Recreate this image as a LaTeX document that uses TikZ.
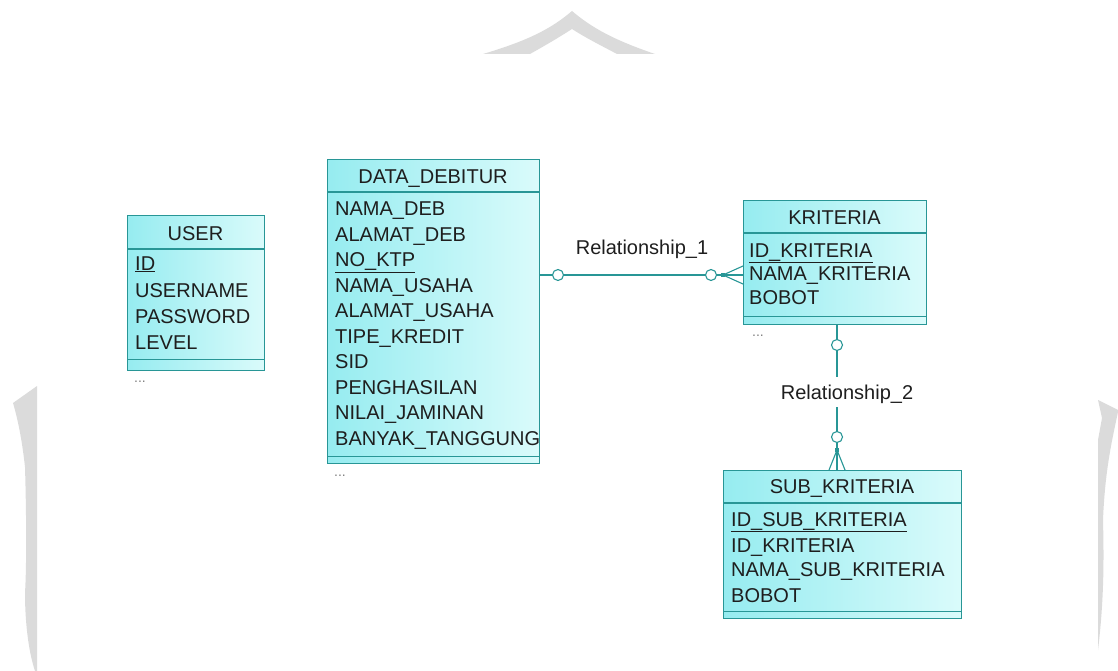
\documentclass[tikz,border=0pt]{standalone}
\usepackage{fontspec}
\setmainfont{Liberation Sans}
\usetikzlibrary{positioning}

\definecolor{entline}{RGB}{40,150,150}
\definecolor{entleft}{RGB}{150,236,240}
\definecolor{entright}{RGB}{218,251,251}
\definecolor{enttext}{RGB}{30,30,30}
\definecolor{wmark}{RGB}{219,219,219}

\tikzset{
  entbox/.style={draw=entline, line width=1.2pt, left color=entleft, right color=entright, inner sep=0pt, anchor=north west},
  entsep/.style={draw=entline, line width=1.1pt},
  enttitle/.style={text=enttext, inner sep=0pt, text height=14pt, text depth=0pt, font=\fontsize{20}{24}\selectfont},
  attr/.style={anchor=west, text=enttext, inner sep=0pt, text height=14pt, text depth=0pt, font=\fontsize{20}{24}\selectfont},
  more/.style={anchor=west, text=gray, inner sep=0pt, font=\fontsize{14}{16}\selectfont},
  relline/.style={draw=entline, line width=1.1pt},
  relcirc/.style={circle, draw=entline, line width=1.1pt, fill=white, minimum size=11pt, inner sep=0pt},
  reldot/.style={fill=entline, minimum size=3.5pt, inner sep=0pt},
  rellabel/.style={text=enttext, inner sep=8pt, text height=14pt, text depth=0pt, font=\fontsize{20}{24}\selectfont}
}

\begin{document}
\begin{tikzpicture}[x=1pt, y=-1pt]
  \useasboundingbox (0,0) rectangle (1118,671);

  % watermark
  \fill[wmark] (483,54) .. controls (530,40) and (552,28) .. (572,11)
    .. controls (592,28) and (614,40) .. (655,54) -- (617,54)
    .. controls (600,45) and (586,38) .. (572,29)
    .. controls (558,38) and (546,45) .. (530,54) -- cycle;
  \fill[wmark] (13,403) -- (37,386) -- (37,671) -- (35,671)
    .. controls (28,650) and (25,620) .. (25,593)
    .. controls (27,560) and (26,500) .. (25,467)
    .. controls (22,440) and (18,420) .. (13,403) -- cycle;
  \fill[wmark] (1098,400) -- (1118,410) -- (1118,412)
    .. controls (1112,440) and (1105,470) .. (1103,520)
    .. controls (1104,560) and (1104,600) .. (1098,650)
    -- (1098,440) -- (1102,418) -- cycle;

  % USER
  \node[entbox, minimum width=137pt, minimum height=155pt] (user) at (127,215) {};
  \draw[entsep] ([yshift=-34pt]user.north west) -- ([yshift=-34pt]user.north east);
  \draw[entsep] ([yshift=12pt]user.south west) -- ([yshift=12pt]user.south east);
  \node[enttitle] (usertitle) at (195.5,233) {USER};
  \node[attr] (userid) at (135,263) {\underline{ID}};
  \node[attr] (username) at (135,290) {USERNAME};
  \node[attr] (userpass) at (135,316) {PASSWORD};
  \node[attr] (userlevel) at (135,342) {LEVEL};
  \node[more] (usermore) at (134,382) {...};

  % DATA_DEBITUR
  \node[entbox, minimum width=212pt, minimum height=304pt] (debitur) at (327,159) {};
  \draw[entsep] ([yshift=-33pt]debitur.north west) -- ([yshift=-33pt]debitur.north east);
  \draw[entsep] ([yshift=8pt]debitur.south west) -- ([yshift=8pt]debitur.south east);
  \node[enttitle] (debtitle) at (433,176) {DATA\_DEBITUR};
  \begin{scope}
    \clip (327,159) rectangle (538,463);
    \node[attr] (debnama) at (335,208) {NAMA\_DEB};
    \node[attr] (debalamat) at (335,234) {ALAMAT\_DEB};
    \node[attr] (debktp) at (335,259.5) {\underline{NO\_KTP}};
    \node[attr] (debusaha) at (335,285) {NAMA\_USAHA};
    \node[attr] (debalusaha) at (335,310.5) {ALAMAT\_USAHA};
    \node[attr] (debtipe) at (335,336) {TIPE\_KREDIT};
    \node[attr] (debsid) at (335,361.5) {SID};
    \node[attr] (debhasil) at (335,387) {PENGHASILAN};
    \node[attr] (debnilai) at (335,412.5) {NILAI\_JAMINAN};
    \node[attr] (debtanggung) at (335,438) {BANYAK\_TANGGUNG};
  \end{scope}
  \node[more] (debmore) at (334,476) {...};

  % KRITERIA
  \node[entbox, minimum width=183pt, minimum height=124pt] (kriteria) at (743,200) {};
  \draw[entsep] ([yshift=-33pt]kriteria.north west) -- ([yshift=-33pt]kriteria.north east);
  \draw[entsep] ([yshift=9pt]kriteria.south west) -- ([yshift=9pt]kriteria.south east);
  \node[enttitle] (krititle) at (834.5,217) {KRITERIA};
  \node[attr] (kriid) at (749,250) {\underline{ID\_KRITERIA}};
  \node[attr] (krinama) at (749,273.5) {NAMA\_KRITERIA};
  \node[attr] (kribobot) at (749,297) {BOBOT};
  \node[more] (krimore) at (752,336) {...};

  % SUB_KRITERIA
  \node[entbox, minimum width=238pt, minimum height=148pt] (subkri) at (723,470) {};
  \draw[entsep] ([yshift=-33pt]subkri.north west) -- ([yshift=-33pt]subkri.north east);
  \draw[entsep] ([yshift=8pt]subkri.south west) -- ([yshift=8pt]subkri.south east);
  \node[enttitle] (subtitle) at (842,486) {SUB\_KRITERIA};
  \node[attr] (subid) at (731,519) {\underline{ID\_SUB\_KRITERIA}};
  \node[attr] (subkriid) at (731,545) {ID\_KRITERIA};
  \node[attr] (subnama) at (731,569.5) {NAMA\_SUB\_KRITERIA};
  \node[attr] (subbobot) at (731,595) {BOBOT};

  % Relationship_1
  \node[rellabel] (rel1) at (642,247) {Relationship\_1};
  \draw[relline] (debitur.east |- 0,275) -- (kriteria.west |- 0,275);
  \coordinate (r1foot) at (723,275);
  \draw[relline] (r1foot) -- (kriteria.west |- 0,266);
  \draw[relline] (r1foot) -- (kriteria.west |- 0,284);
  \node[relcirc] (r1deb) at (558,275) {};
  \node[relcirc] (r1kri) at (711,275) {};
  \node[reldot] (r1dot) at (r1foot) {};

  % Relationship_2
  \node[rellabel] (rel2) at (847,392) {Relationship\_2};
  \draw[relline] (kriteria.south -| 837,0) -- (rel2.north -| 837,0);
  \draw[relline] (rel2.south -| 837,0) -- (subkri.north -| 837,0);
  \coordinate (r2foot) at (837,450);
  \draw[relline] (r2foot) -- (subkri.north -| 829,0);
  \draw[relline] (r2foot) -- (subkri.north -| 845,0);
  \node[relcirc] (r2kri) at (837,345) {};
  \node[relcirc] (r2sub) at (837,437) {};
  \node[reldot] (r2dot) at (r2foot) {};
\end{tikzpicture}
\end{document}
